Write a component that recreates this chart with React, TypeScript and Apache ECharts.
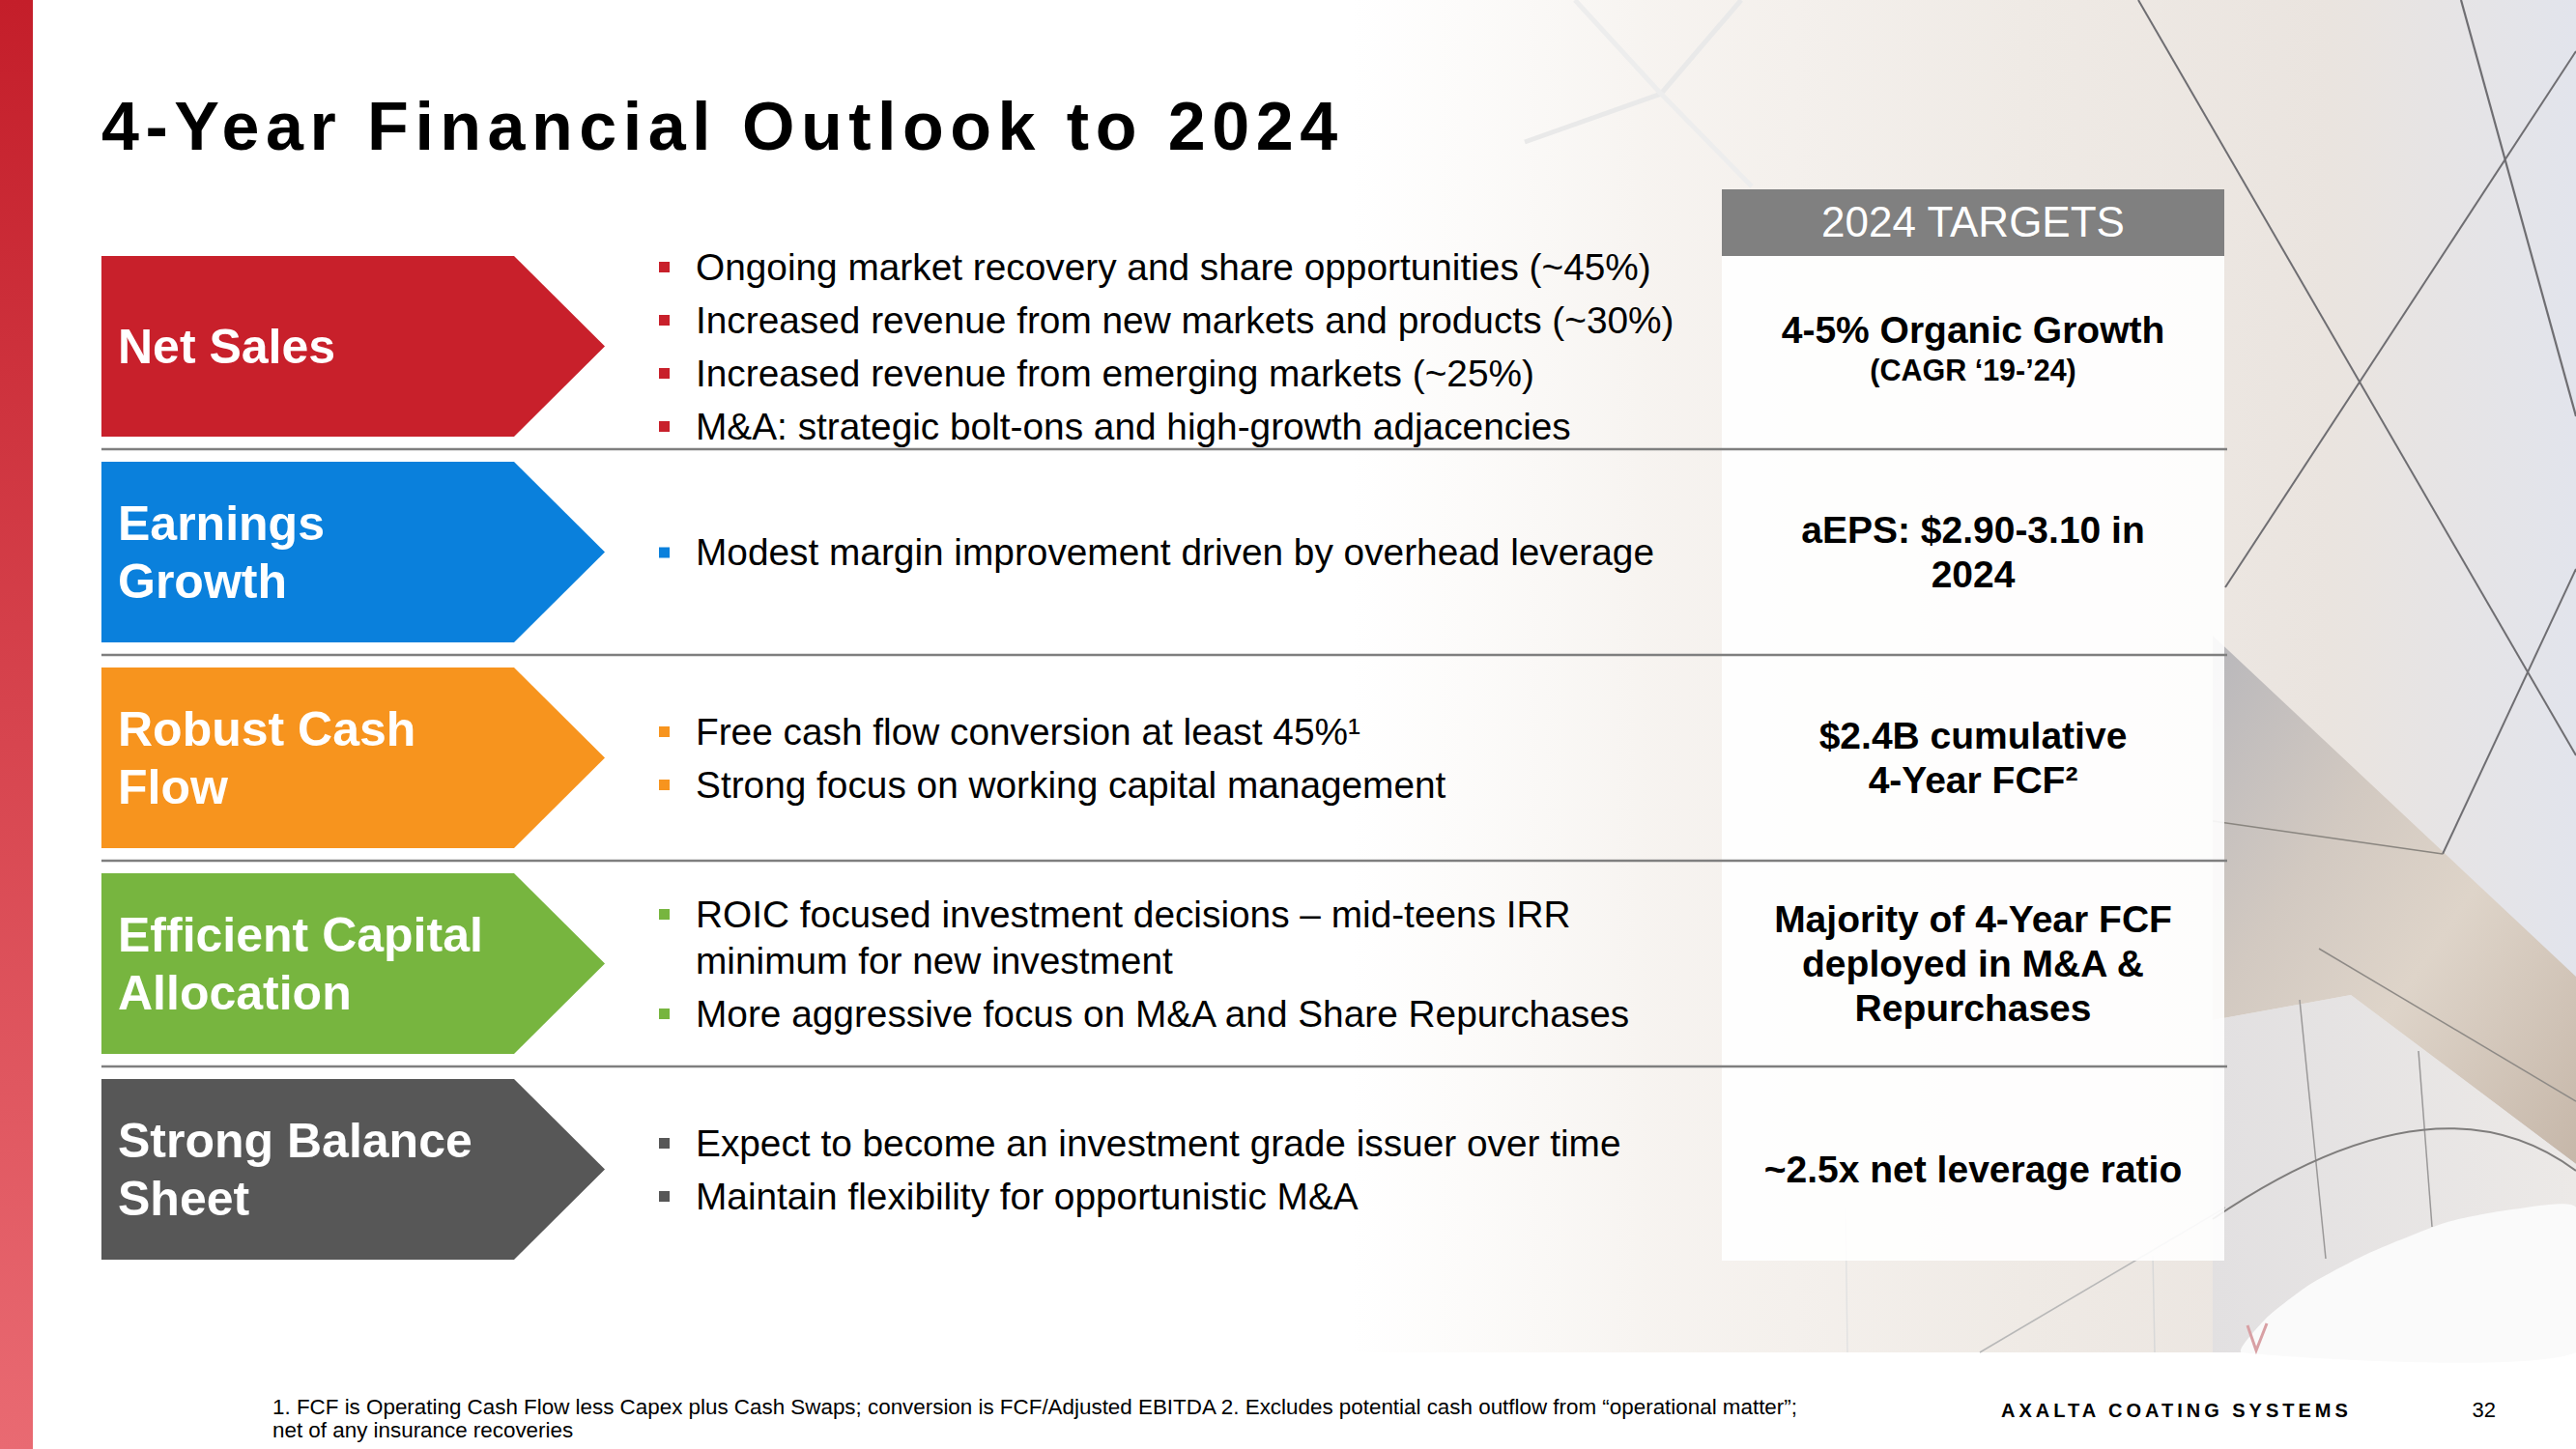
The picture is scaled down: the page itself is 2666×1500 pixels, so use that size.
import React, { useEffect, useRef } from "react";
import * as echarts from "echarts";

const W = 2666;
const H = 1500;
const FONT = "'Liberation Sans', Arial, Helvetica, sans-serif";

// ---- slide content ----
const TITLE = "4-Year Financial Outlook to 2024";
const rowLabels = [
  "Net Sales",
  "Earnings\nGrowth",
  "Robust Cash\nFlow",
  "Efficient Capital\nAllocation",
  "Strong Balance\nSheet",
];
const rowColors = ["#C8202B", "#0A80DC", "#F7941E", "#77B53F", "#575757"];
const rowBullets: string[][] = [
  [
    "Ongoing market recovery and share opportunities (~45%)",
    "Increased revenue from new markets and products (~30%)",
    "Increased revenue from emerging markets (~25%)",
    "M&A: strategic bolt-ons and high-growth adjacencies",
  ],
  ["Modest margin improvement driven by overhead leverage"],
  ["Free cash flow conversion at least 45%¹", "Strong focus on working capital management"],
  [
    "ROIC focused investment decisions – mid-teens IRR\nminimum for new investment",
    "More aggressive focus on M&A and Share Repurchases",
  ],
  ["Expect to become an investment grade issuer over time", "Maintain flexibility for opportunistic M&A"],
];
const targetHeader = "2024 TARGETS";
const targetMain = [
  "4-5% Organic Growth",
  "aEPS: $2.90-3.10 in\n2024",
  "$2.4B cumulative\n4-Year FCF²",
  "Majority of 4-Year FCF\ndeployed in M&A &\nRepurchases",
  "~2.5x net leverage ratio",
];
const targetSub = ["(CAGR ‘19-’24)", "", "", "", ""];
const footnoteLines = [
  "1. FCF is Operating Cash Flow less Capex plus Cash Swaps; conversion is FCF/Adjusted EBITDA 2. Excludes potential cash outflow from “operational matter”;",
  "net of any insurance recoveries",
];
const brand = "AXALTA COATING SYSTEMS";
const pageNo = "32";

function txt(x: number, y: number, text: string, o: any = {}) {
  const align = o.align || "left";
  const va = o.va || "middle";
  return {
    type: "text",
    x,
    y,
    silent: true,
    style: {
      text,
      fill: o.fill || "#000",
      fontSize: o.size || 38,
      fontWeight: o.weight || "normal",
      fontFamily: FONT,
      lineHeight: o.lh,
      align,
      textAlign: align,
      verticalAlign: va,
      textVerticalAlign: va,
    },
  };
}

function line(x1: number, y1: number, x2: number, y2: number, stroke: string, lw: number) {
  return { type: "line", silent: true, shape: { x1, y1, x2, y2 }, style: { stroke, lineWidth: lw } };
}

function buildElements() {
  const els: any[] = [];
  // page background
  els.push({ type: "rect", shape: { x: 0, y: 0, width: W, height: H }, style: { fill: "#FFFFFF" } });

  // ---- photo background (right side) ----
  els.push({
    type: "rect",
    shape: { x: 1400, y: 0, width: W - 1400, height: 1400 },
    style: {
      fill: new echarts.graphic.LinearGradient(0, 0, 1, 0, [
        { offset: 0, color: "rgba(246,243,239,0)" },
        { offset: 0.25, color: "rgba(245,241,237,0.85)" },
        { offset: 0.55, color: "#EFEAE5" },
        { offset: 0.8, color: "#EAE4DF" },
        { offset: 1, color: "#E2E4EC" },
      ]),
    },
  });
  // faint light lines left of the table
  els.push({ type: "polyline", shape: { points: [[1802, 0], [1719, 97], [1578, 147]] }, style: { stroke: "#E9E9E9", lineWidth: 5, fill: null } });
  els.push({ type: "polyline", shape: { points: [[1630, 0], [1719, 97], [1813, 193]] }, style: { stroke: "#EDEDED", lineWidth: 5, fill: null } });
  // shadow band
  els.push({
    type: "polygon",
    shape: { points: [[2290, 658], [2666, 1011], [2666, 1205], [2433, 1030], [2290, 1056]] },
    style: {
      fill: new echarts.graphic.LinearGradient(0, 0, 1, 1, [
        { offset: 0, color: "#B8B7BB" },
        { offset: 0.35, color: "#D2C9C1" },
        { offset: 0.6, color: "#DED4C9" },
        { offset: 1, color: "#C6B7A9" },
      ]),
    },
  });
  // lower panels
  els.push({
    type: "polygon",
    shape: {
      points: [[2290, 1056], [2433, 1030], [2666, 1205], [2666, 1250], [2533, 1265], [2450, 1298], [2390, 1330], [2320, 1400], [2290, 1400]],
    },
    style: {
      fill: new echarts.graphic.LinearGradient(0, 0, 1, 0, [
        { offset: 0, color: "#E2E0E1" },
        { offset: 1, color: "#ECE9E7" },
      ]),
    },
  });
  // white curved shape
  els.push({
    type: "polygon",
    shape: {
      points: [[2320, 1400], [2345, 1365], [2390, 1330], [2450, 1298], [2533, 1265], [2600, 1252], [2666, 1250], [2666, 1400]],
      smooth: 0.2,
    },
    style: { fill: "#FAFAFA" },
  });
  els.push({ type: "polyline", shape: { points: [[2326, 1372], [2335, 1398], [2346, 1370]] }, style: { stroke: "#D8A0A4", lineWidth: 3, fill: null } });
  // photo lines
  const dark = "#6F6E72";
  els.push(line(2547, 0, 2666, 431, dark, 2.2));
  els.push(line(2213, 0, 2666, 782, dark, 2));
  els.push(line(2666, 53, 2303, 608, dark, 2));
  els.push(line(2666, 589, 2528, 884, dark, 2));
  els.push(line(2290, 850, 2528, 884, "#8A8680", 1.5));
  els.push(line(2400, 982, 2666, 1140, "#8E8A86", 1.5));
  els.push(line(2380, 1035, 2407, 1303, "#9A9898", 1.5));
  els.push(line(2503, 1088, 2517, 1270, "#9A9898", 1.5));
  els.push({ type: "bezierCurve", shape: { x1: 2290, y1: 1262, x2: 2666, y2: 1212, cpx1: 2522, cpy1: 1104 }, style: { stroke: "#7F7D7C", lineWidth: 2, fill: null } });
  els.push(line(2303, 1250, 2049, 1400, "#B8B8B8", 1.5));
  els.push(line(1910, 1250, 1912, 1400, "#E2E2E2", 1.5));
  els.push(line(2228, 1300, 2230, 1400, "#D8D8D8", 1.5));

  // ---- left accent stripe ----
  els.push({
    type: "rect",
    shape: { x: 0, y: 0, width: 34, height: H },
    style: {
      fill: new echarts.graphic.LinearGradient(0, 0, 0, 1, [
        { offset: 0, color: "#C41E2A" },
        { offset: 1, color: "#E96A72" },
      ]),
    },
  });

  // ---- title ----
  els.push(txt(105, 131, TITLE, { size: 70, weight: "bold" }));

  // ---- targets panel ----
  const TX = 1782, TW = 520, TCX = TX + TW / 2;
  els.push({ type: "rect", shape: { x: TX, y: 265, width: TW, height: 1040 }, style: { fill: "rgba(255,255,255,0.9)" } });
  els.push({ type: "rect", shape: { x: TX, y: 196, width: TW, height: 69 }, style: { fill: "#808080" } });
  els.push(txt(TCX, 229, targetHeader, { size: 44, fill: "#FFFFFF", align: "center" }));

  // ---- rows ----
  const ROW_TOP0 = 265, ROW_STEP = 213, ROW_H = 187;
  const AX = 105, ARECT = 532, ATIP = 626;
  for (let i = 0; i < rowLabels.length; i++) {
    const top = ROW_TOP0 + i * ROW_STEP;
    const cy = top + ROW_H / 2;
    // divider below row
    if (i < rowLabels.length - 1) {
      els.push(line(AX, top + 200, 2305, top + 200, "#7F7F7F", 2.5));
    }
    // chevron
    els.push({
      type: "polygon",
      shape: { points: [[AX, top], [ARECT, top], [ATIP, cy], [ARECT, top + ROW_H], [AX, top + ROW_H]] },
      style: { fill: rowColors[i] },
    });
    els.push(txt(122, cy, rowLabels[i], { size: 50, weight: "bold", fill: "#FFFFFF", lh: 60 }));

    // bullets
    const bullets = rowBullets[i];
    const lines: { text: string; first: boolean; gapBefore: boolean }[] = [];
    bullets.forEach((b, bi) => {
      b.split("\n").forEach((t, li) => lines.push({ text: t, first: li === 0, gapBefore: li === 0 && bi > 0 }));
    });
    const LINE = 48, GAP = 7;
    let span = 0;
    lines.forEach((l, k) => {
      if (k > 0) span += LINE + (l.gapBefore ? GAP : 0);
    });
    let y = cy - span / 2;
    lines.forEach((l, k) => {
      if (k > 0) y += LINE + (l.gapBefore ? GAP : 0);
      if (l.first) {
        els.push({ type: "rect", shape: { x: 682, y: y - 5, width: 11, height: 11 }, style: { fill: rowColors[i] } });
      }
      els.push(txt(720, y, l.text, { size: 38.8 }));
    });

    // targets
    if (targetSub[i]) {
      els.push(txt(TCX, cy - 17, targetMain[i], { size: 39, weight: "bold", align: "center" }));
      els.push(txt(TCX, cy + 24, targetSub[i], { size: 30.5, weight: "bold", align: "center" }));
    } else {
      els.push(txt(TCX, cy, targetMain[i], { size: 39, weight: "bold", align: "center", lh: 46 }));
    }
  }

  // ---- footer ----
  els.push(txt(282, 1456, footnoteLines[0], { size: 22.4, fill: "#000" }));
  els.push(txt(282, 1480, footnoteLines[1], { size: 22.4, fill: "#000" }));
  els.push(txt(2071, 1460, brand, { size: 20, weight: "bold", fill: "#000" }));
  els.push(txt(2583, 1459, pageNo, { size: 22, fill: "#000", align: "right" }));
  return els;
}

const letterSpacing: Record<string, string> = { [TITLE]: "6.5", [brand]: "4" };

export default function App() {
  const ref = useRef<HTMLDivElement>(null);
  useEffect(() => {
    document.body.style.margin = "0";
    const el = ref.current!;
    const chart = echarts.init(el, undefined, { renderer: "svg", width: W, height: H });
    chart.setOption({ animation: false, graphic: { elements: buildElements() } });
    const apply = () => {
      el.querySelectorAll("text").forEach((t) => {
        const v = letterSpacing[(t.textContent || "").trim()];
        if (v && t.getAttribute("letter-spacing") !== v) t.setAttribute("letter-spacing", v);
      });
    };
    apply();
    chart.on("finished", apply);
    const timers = [0, 30, 100, 300, 800, 1500].map((d) => setTimeout(apply, d));
    return () => {
      timers.forEach(clearTimeout);
      chart.dispose();
    };
  }, []);
  return <div ref={ref} style={{ width: W, height: H }} />;
}
